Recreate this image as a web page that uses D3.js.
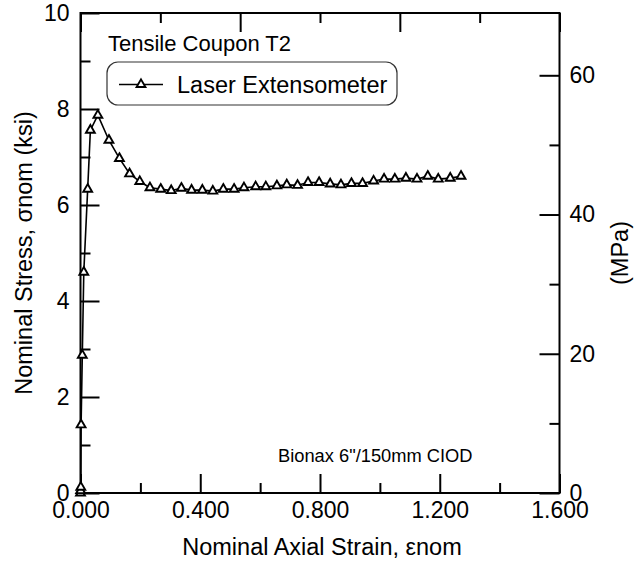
<!DOCTYPE html>
<html>
<head>
<meta charset="utf-8">
<script src="https://cdn.jsdelivr.net/npm/d3@7"></script>
<style>
  body { margin: 0; background: #fff; }
  text { font-family: "Liberation Sans", Arial, sans-serif; fill: #000; }
</style>
</head>
<body>
<div id="chart"></div>
<script>
// nominal axial strain (in/in)
const strain = [0, 0.0005, 0.001, 0.002, 0.006, 0.011, 0.024, 0.033, 0.058, 0.095,
  0.130, 0.164, 0.198, 0.232, 0.268, 0.303, 0.337, 0.371, 0.407, 0.442,
  0.477, 0.513, 0.546, 0.585, 0.619, 0.656, 0.689, 0.725, 0.760, 0.797,
  0.834, 0.870, 0.905, 0.942, 0.979, 1.014, 1.050, 1.087, 1.124, 1.160,
  1.195, 1.235, 1.271]
// nominal stress (ksi)
const stressKsi = [0, 0.05, 0.12, 1.42, 2.87, 4.60, 6.33, 7.56, 7.87, 7.35,
  6.97, 6.65, 6.49, 6.36, 6.33, 6.30, 6.35, 6.31, 6.31, 6.29,
  6.33, 6.33, 6.36, 6.38, 6.38, 6.40, 6.42, 6.41, 6.47, 6.47,
  6.44, 6.42, 6.45, 6.45, 6.50, 6.54, 6.54, 6.56, 6.54, 6.60,
  6.54, 6.56, 6.60]

const xMajor = [0, 0.4, 0.8, 1.2, 1.6]
const xMinor = [0.2, 0.6, 1.0, 1.4]
const xTop = [0, 1.6 / 6, 3.2 / 6, 4.8 / 6, 6.4 / 6, 8 / 6, 1.6]
const yMajor = [0, 2, 4, 6, 8, 10]
const yMinor = [1, 3, 5, 7, 9]
const mpaMajor = [0, 20, 40, 60]
const mpaMinor = [10, 30, 50]
const KSI_TO_MPA = 6.894757

const W = 635, H = 566
const m = { left: 80.5, right: 559.5, top: 13, bottom: 493 }

const svg = d3.select("#chart").append("svg").attr("width", W).attr("height", H)

const x = d3.scaleLinear().domain([0, 1.6]).range([m.left, m.right])
const y = d3.scaleLinear().domain([0, 10]).range([m.bottom, m.top])
const yR = d3.scaleLinear().domain([0, 10 * KSI_TO_MPA]).range([m.bottom, m.top])

// 坐标轴，刻度朝里
function styleAxis(g) {
  g.select(".domain").remove()
  g.selectAll(".tick line").attr("stroke", "#000").attr("stroke-width", 2)
  g.selectAll(".tick text").style("font-size", "23px").attr("fill", "#000")
}

svg.append("g").attr("transform", `translate(0,${m.bottom})`)
  .call(d3.axisBottom(x).tickValues(xMajor).tickSize(-19).tickPadding(9).tickFormat(d3.format(".3f")))
  .call(styleAxis)
svg.append("g").attr("transform", `translate(0,${m.bottom})`)
  .call(d3.axisBottom(x).tickValues(xMinor).tickSize(-10).tickFormat(""))
  .call(styleAxis)

// top axis ticks (alternating long / short)
svg.append("g").attr("transform", `translate(0,${m.top})`)
  .call(d3.axisTop(x).tickValues(xTop.filter((d, i) => i % 2 == 0)).tickSize(-19).tickFormat(""))
  .call(styleAxis)
svg.append("g").attr("transform", `translate(0,${m.top})`)
  .call(d3.axisTop(x).tickValues(xTop.filter((d, i) => i % 2 == 1)).tickSize(-10).tickFormat(""))
  .call(styleAxis)

svg.append("g").attr("transform", `translate(${m.left},0)`)
  .call(d3.axisLeft(y).tickValues(yMajor).tickSize(-19).tickPadding(11).tickFormat(d3.format("d")))
  .call(styleAxis)
svg.append("g").attr("transform", `translate(${m.left},0)`)
  .call(d3.axisLeft(y).tickValues(yMinor).tickSize(-10).tickFormat(""))
  .call(styleAxis)

svg.append("g").attr("transform", `translate(${m.right},0)`)
  .call(d3.axisRight(yR).tickValues(mpaMajor).tickSize(-20).tickPadding(10).tickFormat(d3.format("d")))
  .call(styleAxis)
svg.append("g").attr("transform", `translate(${m.right},0)`)
  .call(d3.axisRight(yR).tickValues(mpaMinor).tickSize(-10).tickFormat(""))
  .call(styleAxis)

// 边框
svg.append("rect")
  .attr("x", m.left).attr("y", m.top)
  .attr("width", m.right - m.left).attr("height", m.bottom - m.top)
  .attr("fill", "none").attr("stroke", "#000").attr("stroke-width", 2)

// curve
const pts = strain.map((s, i) => [s, stressKsi[i]])
const line = d3.line().x(d => x(d[0])).y(d => y(d[1]))
svg.append("path").datum(pts)
  .attr("d", line).attr("fill", "none").attr("stroke", "#000").attr("stroke-width", 1.6)

const tri = d3.symbol().type(d3.symbolTriangle).size(34)
svg.append("g").selectAll("path").data(pts).enter().append("path")
  .attr("d", tri)
  .attr("transform", d => `translate(${x(d[0])},${y(d[1])})`)
  .attr("fill", "#fff").attr("stroke", "#000").attr("stroke-width", 1.9)

// title + legend
svg.append("text").attr("x", 108).attr("y", 51).style("font-size", "22px").text("Tensile Coupon T2")

svg.append("rect").attr("x", 107).attr("y", 62).attr("width", 290).attr("height", 43)
  .attr("rx", 11).attr("fill", "#fff").attr("stroke", "#333").attr("stroke-width", 1.2)
svg.append("line").attr("x1", 119).attr("x2", 163).attr("y1", 84.5).attr("y2", 84.5)
  .attr("stroke", "#000").attr("stroke-width", 1.6)
svg.append("path").attr("d", tri).attr("transform", "translate(141,84.5)")
  .attr("fill", "#fff").attr("stroke", "#000").attr("stroke-width", 1.9)
svg.append("text").attr("x", 177).attr("y", 93).style("font-size", "23.5px").text("Laser Extensometer")

svg.append("text").attr("x", 278).attr("y", 462).style("font-size", "18.3px").text("Bionax 6\"/150mm CIOD")

// axis titles
const xt = svg.append("text").attr("x", (m.left + m.right) / 2 + 2).attr("y", 555)
  .attr("text-anchor", "middle").style("font-size", "23.5px")
xt.append("tspan").text("Nominal Axial Strain, ")
xt.append("tspan").text("ε")
xt.append("tspan").text("nom")

const yt = svg.append("text")
  .attr("transform", `translate(32,${(m.top + m.bottom) / 2}) rotate(-90)`)
  .attr("text-anchor", "middle").style("font-size", "23.5px")
yt.append("tspan").text("Nominal Stress, ")
yt.append("tspan").text("σ")
yt.append("tspan").text("nom (ksi)")

svg.append("text")
  .attr("transform", `translate(628,${(m.top + m.bottom) / 2}) rotate(-90)`)
  .attr("text-anchor", "middle").style("font-size", "23.5px").text("(MPa)")
</script>
</body>
</html>
